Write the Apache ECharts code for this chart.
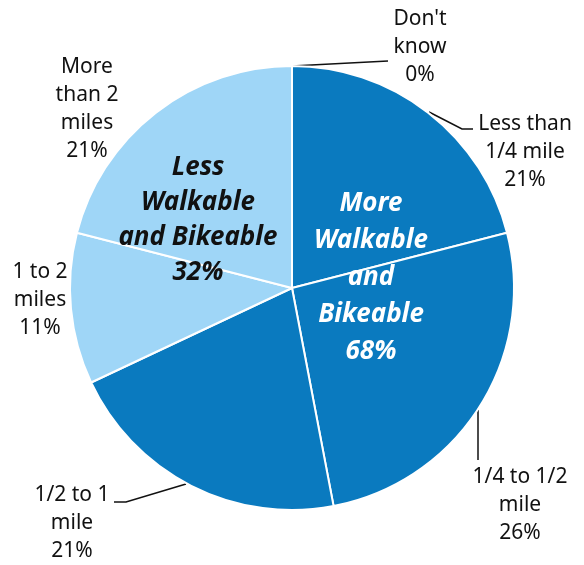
<!DOCTYPE html>
<html>
<head>
<meta charset="utf-8">
<script src="https://cdn.jsdelivr.net/npm/echarts@6/dist/echarts.min.js"></script>
<style>
  html, body { margin: 0; padding: 0; background: #fff; }
  #main { width: 584px; height: 565px; }
</style>
</head>
<body>
<div id="main"></div>
<script>
// distances
const categories = ["Don't\nknow", 'Less than\n1/4 mile', '1/4 to 1/2\nmile', '1/2 to 1\nmile', '1 to 2\nmiles', 'More\nthan 2\nmiles'];
const shares = [0, 21, 26, 21, 11, 21];
const groupOf = [0, 0, 0, 0, 1, 1];
const groupNames = ['More\nWalkable\nand\nBikeable', 'Less\nWalkable\nand Bikeable'];
const groupShares = [68, 32];

const groupColors = ['#0a7abf', '#9fd6f7'];

// where each outside label goes (text centre) and its leader line
const labelSpots = [
  { x: 420, y: 47, line: [[292, 66], [388, 61], [388, 61]] },
  { x: 525, y: 152, line: [[429, 112], [462, 129], [473, 129]] },
  { x: 520, y: 505, line: [[478, 410], [478, 460], [478, 460]] },
  { x: 72, y: 523, line: [[186, 484], [126, 502], [114, 502]] },
  { x: 40, y: 300, line: null },
  { x: 87, y: 109, line: null }
];

const chart = echarts.init(document.getElementById('main'));

const option = {
  animation: false,
  series: [
    {
      type: 'pie',
      center: [292, 288],
      radius: [0, 222],
      startAngle: 90,
      clockwise: true,
      itemStyle: { borderColor: '#fff', borderWidth: 2 },
      label: {
        show: true,
        position: 'outside',
        formatter: p => p.name + '\n' + p.value + '%',
        fontFamily: 'Noto Sans',
        fontSize: 21,
        lineHeight: 28,
        color: '#111',
        align: 'center',
        overflow: 'none',
        width: 140
      },
      labelLine: { show: true, lineStyle: { color: '#111', width: 1.5 } },
      labelLayout: function (params) {
        const s = labelSpots[params.dataIndex];
        const out = { x: s.x, y: s.y, align: 'center', verticalAlign: 'middle' };
        if (s.line) out.labelLinePoints = s.line;
        return out;
      },
      data: categories.map((name, i) => ({
        name: name,
        value: shares[i],
        itemStyle: { color: groupColors[groupOf[i]] },
        labelLine: { show: !!labelSpots[i].line }
      }))
    }
  ],
  graphic: [
    {
      type: 'text',
      x: 371, y: 278,
      style: {
        text: groupNames[0] + '\n' + groupShares[0] + '%',
        fill: '#fff',
        font: 'italic bold 26px "Noto Sans"',
        lineHeight: 37,
        align: 'center',
        verticalAlign: 'middle'
      },
      z: 100
    },
    {
      type: 'text',
      x: 198, y: 220,
      style: {
        text: groupNames[1] + '\n' + groupShares[1] + '%',
        fill: '#111',
        font: 'italic bold 26px "Noto Sans"',
        lineHeight: 35,
        align: 'center',
        verticalAlign: 'middle'
      },
      z: 100
    }
  ]
};

chart.setOption(option);
window.addEventListener('resize', function () {
  chart.resize();
});
</script>
</body>
</html>
